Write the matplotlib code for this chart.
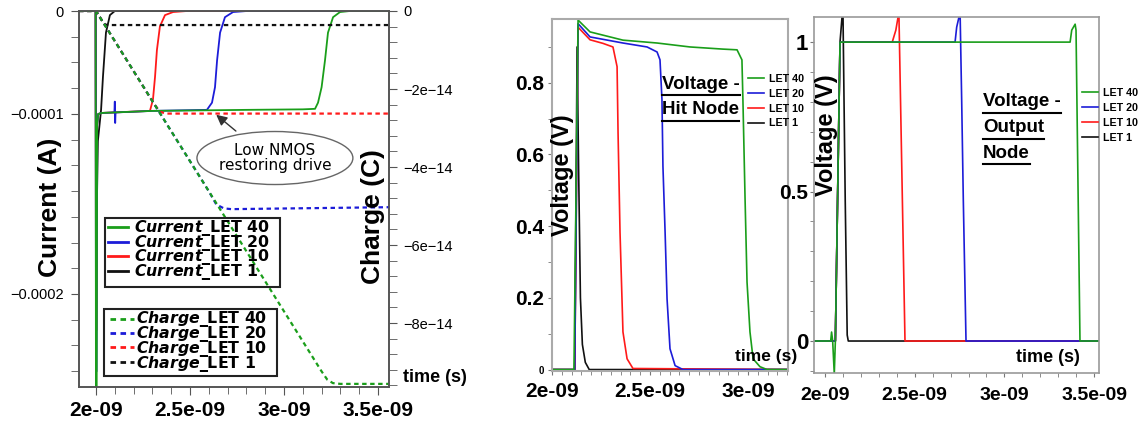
import numpy as np
import matplotlib
matplotlib.use("Agg")
import matplotlib.pyplot as plt
from matplotlib.patches import Ellipse, Rectangle
from matplotlib.lines import Line2D
from matplotlib.ticker import MultipleLocator, FuncFormatter, FixedLocator

plt.rcParams['font.family'] = ['Liberation Sans', 'DejaVu Sans']
plt.rcParams['mathtext.fontset'] = 'custom'
plt.rcParams['mathtext.rm'] = 'DejaVu Sans:bold'
plt.rcParams['mathtext.it'] = 'DejaVu Sans:italic'
plt.rcParams['mathtext.bf'] = 'DejaVu Sans:bold'
plt.rcParams['mathtext.bfit'] = 'DejaVu Sans:italic:bold'

# ---- data (time in ns, current in 1e-4 A, charge in 1e-14 C, voltage in V)
lets = ["LET 40", "LET 20", "LET 10", "LET 1"]
colors = ["#1a9e1a", "#1c1cd8", "#ff1a1a", "#111111"]

cur_t_40 = [1.91, 1.998, 2.0, 2.003, 2.006, 2.012, 2.03, 2.3, 2.8, 3.10, 3.165, 3.181, 3.20, 3.218, 3.234, 3.261, 3.298, 3.351, 3.56]
cur_i_40 = [0, 0, -3.0, -3.0, -1.06, -1.0, -0.99, -0.97, -0.96, -0.955, -0.95, -0.89, -0.74, -0.48, -0.21, -0.06, -0.01, 0, 0]
cur_t_20 = [1.91, 1.998, 2.0, 2.003, 2.006, 2.012, 2.03, 2.098, 2.100, 2.102, 2.104, 2.3, 2.59, 2.617, 2.633, 2.644, 2.66, 2.686, 2.729, 2.803, 3.56]
cur_i_20 = [0, 0, -2.43, -2.43, -1.06, -1.0, -0.99, -0.985, -0.88, -1.05, -0.985, -0.97, -0.96, -0.89, -0.74, -0.48, -0.21, -0.06, -0.01, 0, 0]
cur_t_10 = [1.91, 1.998, 2.0, 2.003, 2.006, 2.012, 2.03, 2.287, 2.303, 2.314, 2.324, 2.34, 2.367, 2.41, 2.484, 3.56]
cur_i_10 = [0, 0, -2.2, -2.2, -1.06, -1.0, -0.99, -0.97, -0.86, -0.64, -0.38, -0.15, -0.04, -0.01, 0, 0]
cur_t_1 = [1.91, 1.998, 2.0, 2.003, 2.01, 2.027, 2.037, 2.053, 2.074, 2.10, 3.56]
cur_i_1 = [0, 0, -1.62, -1.62, -1.15, -0.96, -0.64, -0.21, -0.04, 0, 0]

chg_t_40 = [1.91, 2.0, 3.2, 3.23, 3.26, 3.30, 3.56]
chg_q_40 = [0, 0, -9.24, -9.45, -9.54, -9.56, -9.56]
chg_t_20 = [1.91, 2.0, 2.60, 2.64, 2.68, 2.72, 3.56]
chg_q_20 = [0, 0, -4.62, -4.96, -5.06, -5.08, -5.03]
chg_t_10 = [1.91, 2.0, 2.31, 2.34, 2.37, 2.40, 3.56]
chg_q_10 = [0, 0, -2.39, -2.58, -2.63, -2.63, -2.63]
chg_t_1 = [1.91, 2.0, 2.035, 2.05, 2.07, 3.56]
chg_q_1 = [0, 0, -0.27, -0.35, -0.36, -0.36]

hit_t_40 = [2.0, 2.112, 2.133, 2.194, 2.362, 2.536, 2.704, 2.872, 2.944, 2.969, 2.974, 2.985, 2.995, 3.010, 3.026, 3.061, 3.097, 3.21]
hit_v_40 = [0, 0, 0.975, 0.942, 0.919, 0.911, 0.90, 0.894, 0.892, 0.864, 0.753, 0.475, 0.244, 0.105, 0.03, 0.008, 0, 0]
hit_t_20 = [2.0, 2.116, 2.133, 2.194, 2.362, 2.485, 2.536, 2.551, 2.561, 2.566, 2.577, 2.587, 2.602, 2.628, 2.668, 3.21]
hit_v_20 = [0, 0, 0.965, 0.928, 0.911, 0.90, 0.886, 0.864, 0.753, 0.567, 0.383, 0.197, 0.058, 0.011, 0, 0]
hit_t_10 = [2.0, 2.116, 2.133, 2.194, 2.260, 2.311, 2.332, 2.337, 2.347, 2.362, 2.383, 2.413, 3.21]
hit_v_10 = [0, 0, 0.955, 0.92, 0.91, 0.90, 0.845, 0.66, 0.383, 0.105, 0.03, 0.003, 0]
hit_t_1 = [2.0, 2.116, 2.128, 2.136, 2.145, 2.155, 2.17, 2.19, 3.21]
hit_v_1 = [0, 0, 0.90, 0.55, 0.2, 0.07, 0.02, 0, 0]

out_t_40 = [1.94, 2.032, 2.037, 2.043, 2.052, 2.058, 2.084, 3.366, 3.375, 3.394, 3.399, 3.421, 3.53]
out_v_40 = [0, 0, 0.03, 0.0, -0.11, 0.0, 1.0, 1.0, 1.04, 1.06, 1.04, 0, 0]
out_t_20 = [1.94, 2.058, 2.084, 2.725, 2.734, 2.753, 2.762, 2.771, 2.786, 3.53]
out_v_20 = [0, 0, 1.0, 1.0, 1.05, 1.10, 0.80, 0.47, 0, 0]
out_t_10 = [1.94, 2.058, 2.084, 2.375, 2.395, 2.412, 2.446, 3.53]
out_v_10 = [0, 0, 1.0, 1.0, 1.04, 1.10, 0, 0]
out_t_1 = [1.94, 2.058, 2.084, 2.10, 2.113, 2.124, 2.13, 3.53]
out_v_1 = [0, 0, 1.0, 1.12, 0.47, 0.02, 0, 0]

current = [(cur_t_40, cur_i_40), (cur_t_20, cur_i_20), (cur_t_10, cur_i_10), (cur_t_1, cur_i_1)]
charge = [(chg_t_40, chg_q_40), (chg_t_20, chg_q_20), (chg_t_10, chg_q_10), (chg_t_1, chg_q_1)]
hit = [(hit_t_40, hit_v_40), (hit_t_20, hit_v_20), (hit_t_10, hit_v_10), (hit_t_1, hit_v_1)]
out = [(out_t_40, out_v_40), (out_t_20, out_v_20), (out_t_10, out_v_10), (out_t_1, out_v_1)]

ns = 1e-9
DASH = (0, (2, 1.6))

W, H = 1147, 423
fig = plt.figure(figsize=(W / 100, H / 100), dpi=100)


def box(x0, y0, x1, y1):
    return [x0 / W, 1 - y1 / H, (x1 - x0) / W, (y1 - y0) / H]


def fmt_minus(v, pos):
    s = f"{v:g}"
    return s.replace("-", "\u2212")


def fmt_plain(v, pos):
    return f"{v:g}"


# the current axis in the source graphic is not evenly spaced:
# 0 -> -1e-4 spans 103 px, -1e-4 -> -2e-4 spans 180 px
cur_vals = [-1e-3, -2e-4, -1e-4, 0, 1e-3]
cur_pix = [-283 - 180 * 8, -283, -103, 0, 1030]


def cur_fwd(v):
    return np.interp(v, cur_vals, cur_pix)


def cur_inv(p):
    return np.interp(p, cur_pix, cur_vals)


# ---------------- left panel: current + charge ----------------
L0, T0, R0, B0 = 79, 11, 389, 387
ax = fig.add_axes(box(L0, T0, R0, B0))
ax.set_yscale("function", functions=(cur_fwd, cur_inv))
ax2 = ax.twinx()


def axf(px, py):
    # figure pixel -> left-panel axes fraction
    return (px - L0) / (R0 - L0), 1 - (py - T0) / (B0 - T0)


for (t, i), c in list(zip(current, colors))[::-1]:
    ax.plot(np.array(t) * ns, np.array(i) * 1e-4, color=c, lw=1.3)

for (t, q), c in list(zip(charge, colors))[::-1]:
    ax2.plot(np.array(t) * ns, np.array(q) * 1e-14, color=c, lw=1.6, ls=DASH)

ax.set_xlim(1.9096e-9, 3.5585e-9)
ax.set_ylim(-2.517e-4, 0)
ax2.set_ylim(-9.64e-14, 0)

ax.set_xticks([2e-9, 2.5e-9, 3e-9, 3.5e-9])
ax.xaxis.set_major_formatter(FuncFormatter(fmt_plain))
ax.xaxis.set_minor_locator(MultipleLocator(1e-10))
ax.yaxis.set_major_locator(FixedLocator([0, -1e-4, -2e-4]))
ax.yaxis.set_major_formatter(FuncFormatter(fmt_minus))
ax.yaxis.set_minor_locator(FixedLocator([-2.5e-5, -5e-5, -7.5e-5]
                                        + [-1e-4 - k * 1e-4 / 7 for k in range(1, 7)]
                                        + [-2e-4 - k * 1e-4 / 7 for k in range(1, 4)]))
ax.yaxis.set_minor_formatter(FuncFormatter(lambda v, p: ""))
ax2.set_yticks([0, -2e-14, -4e-14, -6e-14, -8e-14])
ax2.yaxis.set_major_formatter(FuncFormatter(fmt_minus))
ax2.yaxis.set_minor_locator(MultipleLocator(0.4e-14))

for a in (ax, ax2):
    for s in a.spines.values():
        s.set_color("#555555")
        s.set_linewidth(1.2)
ax.tick_params(axis="x", which="both", direction="out", color="#555555", pad=4)
ax.tick_params(axis="x", which="major", length=6, labelsize=15)
ax.tick_params(axis="x", which="minor", length=5)
ax.tick_params(axis="y", which="both", direction="out", color="#555555", length=6, labelsize=10.5, pad=5)
ax2.tick_params(axis="y", which="both", direction="out", color="#555555", length=6, labelsize=10.5, pad=4)
for lab in ax.get_xticklabels():
    lab.set_fontweight("bold")


# hand-built legends: italic "Current_" / "Charge_" followed by upright "LET n"
def block_legend(frame, rows, h_x, word, text_x, ls):
    x0, y0 = axf(frame[0], frame[1])
    x1, y1 = axf(frame[2], frame[3])
    ax2.add_patch(Rectangle((x0, y1), x1 - x0, y0 - y1, transform=ax2.transAxes,
                            fill=False, edgecolor="#222222", lw=1.5, zorder=7))
    for ry, c in zip(rows, colors):
        a, b = axf(h_x[0], ry)
        e, _ = axf(h_x[1], ry)
        ax2.plot([a, e], [b, b], transform=ax2.transAxes, color=c, lw=2.0, ls=ls,
                 clip_on=False, zorder=7)
    yc = axf(0, (rows[0] + rows[-1]) / 2 + 1)[1]
    label = "\n".join("$\\mathbfit{" + word + "\\_}$" + l for l in lets)
    ax2.text(axf(text_x, 0)[0], yc, label, transform=ax2.transAxes,
             family="DejaVu Sans", weight="bold", fontsize=11.3,
             linespacing=0.64, ha="left", va="center", zorder=7)


block_legend((105, 218, 280, 287), [227, 242, 256, 271], (108, 128), "Current", 134, "-")
block_legend((104, 309, 277, 376), [319, 333, 347, 362], (110, 134), "Charge", 136, DASH)

ax2.annotate("", xy=(2.628e-9, -0.99e-4), xycoords=ax.transData,
             xytext=(0.513, 0.676), textcoords=ax2.transAxes,
             arrowprops=dict(arrowstyle="-|>", color="#333333", lw=1.0, mutation_scale=16))
ax2.add_patch(Ellipse((0.632, 0.609), 0.503, 0.141, transform=ax2.transAxes,
                      facecolor="white", edgecolor="#666666", lw=1.0, zorder=5))
ax2.text(0.632, 0.609, "Low NMOS\nrestoring drive", transform=ax2.transAxes, ha="center",
         va="center", fontsize=11, family="DejaVu Sans", linespacing=1.0, zorder=6)

# ---------------- middle panel: hit node voltage ----------------
axm = fig.add_axes(box(552, 19, 788, 371))
hit_lines = []
for (t, v), c in list(zip(hit, colors))[::-1]:
    ln, = axm.plot(np.array(t) * ns, v, color=c, lw=1.2)
    hit_lines.append(ln)
hit_lines = hit_lines[::-1]
axm.set_xlim(2.0e-9, 3.204e-9)
axm.set_ylim(-0.004, 0.978)
axm.set_xticks([2e-9, 2.5e-9, 3e-9])
axm.xaxis.set_major_formatter(FuncFormatter(fmt_plain))
axm.xaxis.set_minor_locator(MultipleLocator(0.5e-10))
axm.set_yticks([0, 0.2, 0.4, 0.6, 0.8])
axm.yaxis.set_major_formatter(FuncFormatter(fmt_plain))
axm.yaxis.set_minor_locator(MultipleLocator(0.1))
for s in axm.spines.values():
    s.set_color("#aaaaaa")
    s.set_linewidth(1.5)
axm.tick_params(axis="both", which="both", direction="out", color="#777777", length=3)
axm.tick_params(axis="x", labelsize=15, pad=5)
axm.tick_params(axis="y", labelsize=15, pad=3)
for lab in axm.get_xticklabels() + axm.get_yticklabels():
    lab.set_fontweight("bold")
axm.get_yticklabels()[0].set_fontsize(7)
axm.legend(hit_lines, lets, loc="upper left", bbox_to_anchor=(0.83, 0.844), frameon=False,
           prop=dict(size=7.7, weight="bold"), handlelength=1.5, handletextpad=0.5,
           labelspacing=0.45, borderpad=0, borderaxespad=0)

# ---------------- right panel: output node voltage ----------------
axr = fig.add_axes(box(814, 17, 1099, 373))
out_lines = []
for (t, v), c in list(zip(out, colors))[::-1]:
    ln, = axr.plot(np.array(t) * ns, v, color=c, lw=1.2)
    out_lines.append(ln)
out_lines = out_lines[::-1]
axr.set_xlim(1.939e-9, 3.527e-9)
axr.set_ylim(-0.107, 1.084)
axr.set_xticks([2e-9, 2.5e-9, 3e-9, 3.5e-9])
axr.xaxis.set_major_formatter(FuncFormatter(fmt_plain))
axr.xaxis.set_minor_locator(MultipleLocator(1e-10))
axr.set_yticks([0, 0.5, 1])
axr.yaxis.set_major_formatter(FuncFormatter(fmt_plain))
axr.yaxis.set_minor_locator(MultipleLocator(0.1))
for s in axr.spines.values():
    s.set_color("#999999")
    s.set_linewidth(1.2)
axr.tick_params(axis="both", which="both", direction="out", color="#777777", length=3)
axr.tick_params(axis="x", labelsize=14, pad=7)
axr.tick_params(axis="y", labelsize=16, pad=1)
for lab in axr.get_xticklabels() + axr.get_yticklabels():
    lab.set_fontweight("bold")
axr.get_yticklabels()[1].set_fontsize(15)
axr.legend(out_lines, lets, loc="upper left", bbox_to_anchor=(0.94, 0.80), frameon=False,
           prop=dict(size=7.7, weight="bold"), handlelength=1.5, handletextpad=0.5,
           labelspacing=0.45, borderpad=0, borderaxespad=0)

# ---------------- free texts ----------------
def ftext(x, y, s, **kw):
    return fig.text(x / W, 1 - y / H, s, **kw)


ftext(50, 207, "Current (A)", rotation=90, fontsize=19, fontweight="bold", ha="center", va="center")
ftext(373, 217, "Charge (C)", rotation=90, fontsize=19, fontweight="bold", ha="center", va="center")
ftext(562, 175, "Voltage (V)", rotation=90, fontsize=17, fontweight="bold", ha="center", va="center")
ftext(827, 135, "Voltage (V)", rotation=90, fontsize=17, fontweight="bold", ha="center", va="center")
for x, y, fs in [(435, 377, 13), (766, 356, 12.5), (1048, 357, 13)]:
    ftext(x, y, "time (s)", fontsize=fs, fontweight="bold", ha="center", va="center")

titles = []
for x, y, s in [(662, 84, "Voltage -"), (662, 110, "Hit Node"),
                (983, 102, "Voltage -"), (983, 128, "Output"), (983, 153, "Node")]:
    titles.append((ftext(x, y, s, fontsize=13.5, fontweight="bold", ha="left", va="center"), x, y))

fig.canvas.draw()
renderer = fig.canvas.get_renderer()
for t, x, y in titles:
    bb = t.get_window_extent(renderer)
    yy = 1 - (y + 11) / H
    fig.add_artist(Line2D([x / W, bb.x1 / W], [yy, yy], transform=fig.transFigure,
                          color="black", lw=1.5))

fig.savefig("out.png", dpi=100)
